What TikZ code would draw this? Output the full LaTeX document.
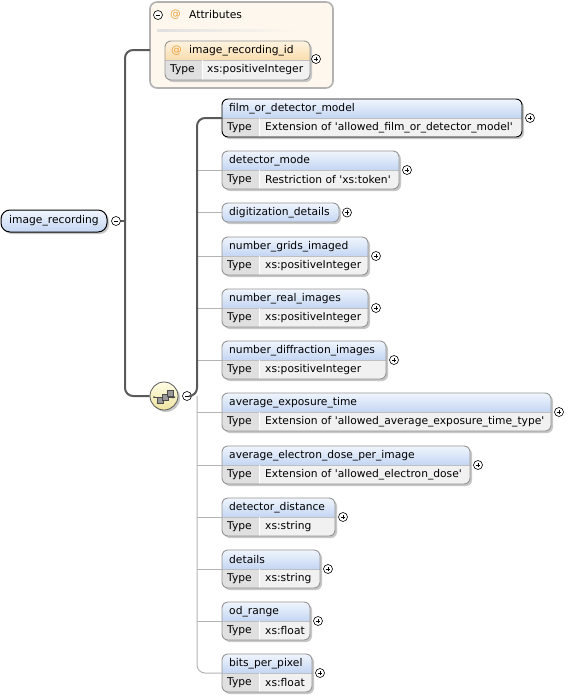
\documentclass[tikz,border=0pt]{standalone}
\usepackage{fontspec}
\setmainfont{DejaVu Sans}
\usetikzlibrary{calc}
\definecolor{hdtop}{RGB}{240,245,253}
\definecolor{hdbot}{RGB}{196,214,243}
\definecolor{typecell}{RGB}{224,224,224}
\definecolor{valcell}{RGB}{241,241,241}
\definecolor{bordergray}{RGB}{150,150,150}
\definecolor{conndark}{RGB}{90,90,90}
\definecolor{connlight}{RGB}{180,180,180}
\definecolor{attrfill}{RGB}{253,247,237}
\definecolor{attrborder}{RGB}{178,178,178}
\definecolor{orangetop}{RGB}{254,243,224}
\definecolor{orangebot}{RGB}{249,221,174}
\definecolor{atorange}{RGB}{238,160,60}
\definecolor{seqtop}{RGB}{255,253,228}
\definecolor{seqbot}{RGB}{238,228,160}
\newcommand\sq{\textquotesingle}
\tikzset{
  txt/.style={font=\fontsize{10.7}{12}\selectfont, inner sep=0, anchor=west},
  pmbase/.style={circle, draw=black, fill=white, line width=0.6, minimum size=9, inner sep=0},
  plusc/.style={pmbase, path picture={
      \draw[line width=0.6] ([xshift=-2.3pt]path picture bounding box.center) -- ([xshift=2.3pt]path picture bounding box.center);
      \draw[line width=0.6] ([yshift=-2.3pt]path picture bounding box.center) -- ([yshift=2.3pt]path picture bounding box.center);}},
  minusc/.style={pmbase, path picture={
      \draw[line width=0.6] ([xshift=-2.3pt]path picture bounding box.center) -- ([xshift=2.3pt]path picture bounding box.center);}},
  conn/.style={draw=conndark, line width=2},
  thinconn/.style={draw=connlight, line width=1},
  shadowc/.style={fill=black!22},
}
% #1 name, #2 y top, #3 x right, #4 label, #5 type, #6 border colour
\newcommand\elemTwo[6]{%
  \fill[shadowc, rounded corners=6] (224,-#2-2) rectangle (#3+2,-#2-40);
  \begin{scope}
    \clip[rounded corners=6] (222,-#2) rectangle (#3,-#2-38);
    \shade[top color=hdtop, bottom color=hdbot] (222,-#2) rectangle (#3,-#2-19);
    \fill[typecell] (222,-#2-19) rectangle (259,-#2-38);
    \fill[valcell] (259,-#2-19) rectangle (#3,-#2-38);
  \end{scope}
  \draw[black!25, line width=0.6] (222,-#2-19) -- (#3,-#2-19);
  \draw[white, line width=0.8] (259,-#2-19) -- (259,-#2-38);
  \node[draw=#6, line width=0.9, rounded corners=6, minimum width=#3-222, minimum height=38,
        anchor=north west, inner sep=0, outer sep=0] (#1) at (222,-#2) {};
  \node[txt] (#1-l) at (229,-#2-9.5) {#4};
  \node[txt] (#1-t) at (227,-#2-28.5) {Type};
  \node[txt] (#1-v) at (265,-#2-28.5) {#5};
  \node[plusc] (#1-p) at (#3+8,-#2-19) {};
}
\newcommand\elemOne[4]{%
  \fill[shadowc, rounded corners=6] (224,-#2-2) rectangle (#3+2,-#2-21);
  \node[draw=#4, line width=0.9, rounded corners=6, minimum width=#3-222, minimum height=19,
        top color=hdtop, bottom color=hdbot,
        anchor=north west, inner sep=0, outer sep=0] (#1) at (222,-#2) {};
  \node[txt] (#1-l) at (229,-#2-9.5) {digitization\_details};
  \node[plusc] (#1-p) at (#3+8,-#2-9.5) {};
}
\begin{document}
\begin{tikzpicture}[x=1pt,y=1pt]
\useasboundingbox (0,0) rectangle (583,-697);
\fill[white] (0,0) rectangle (583,-697);

% ---------- Attributes group ----------
\node[draw=attrborder, fill=attrfill, line width=1.6, rounded corners=7, minimum width=183, minimum height=86,
      anchor=north west, inner sep=0, outer sep=0] (attrs) at (150,-2) {};
\node[minusc] (attrs-m) at (158,-15) {};
\node[txt, text=atorange] (attrs-at) at (170,-15) {@};
\node[txt] (attrs-l) at (189,-15) {Attributes};
\shade[left color=black!12, right color=attrfill] (157,-29.5) rectangle (295,-31);

% image_recording_id
\fill[shadowc, rounded corners=6] (167,-43) rectangle (312,-82);
\begin{scope}
  \clip[rounded corners=6] (165,-41) rectangle (310,-80);
  \shade[top color=orangetop, bottom color=orangebot] (165,-41) rectangle (310,-60);
  \fill[typecell] (165,-60) rectangle (202,-80);
  \fill[valcell] (202,-60) rectangle (310,-80);
\end{scope}
\draw[black!25, line width=0.6] (165,-60) -- (310,-60);
\draw[white, line width=0.8] (202,-60) -- (202,-80);
\node[draw=bordergray, line width=0.9, rounded corners=6, minimum width=145, minimum height=39,
      anchor=north west, inner sep=0, outer sep=0] (idattr) at (165,-41) {};
\node[txt, text=atorange] (idattr-at) at (171,-50.5) {@};
\node[txt] (idattr-l) at (189,-50.5) {image\_recording\_id};
\node[txt] (idattr-t) at (170,-70) {Type};
\node[txt] (idattr-v) at (207,-70) {xs:positiveInteger};
\node[plusc] (idattr-p) at (316,-59) {};

% ---------- root ----------
\fill[shadowc, rounded corners=9] (3,-212) rectangle (109,-234);
\node[draw=black, line width=1, rounded corners=9, minimum width=106, minimum height=22,
      top color=hdtop, bottom color=hdbot, anchor=north west, inner sep=0, outer sep=0] (root) at (1,-210) {};
\node[txt] (root-l) at (9,-221) {image\_recording};
\node[minusc] (root-m) at (116,-221) {};

% ---------- sequence ----------
\fill[black!22] (166,-398) circle (14);
\node[circle, draw=black!65, line width=0.8, minimum size=28, inner sep=0, top color=seqtop, bottom color=seqbot] (seq) at (164,-396) {};
\draw[black!70, line width=0.7] (154,-397) -- (175,-397);
\fill[black!70] (154,-397) circle (1);
\fill[black!70] (175.5,-397) -- (172.5,-395.3) -- (172.5,-398.7) -- cycle;
\foreach \dx/\dy in {0/0,5/3.5,10/7}{
  \draw[black!70, fill=black!40, line width=0.5] (157.5+\dx,-403.5+\dy) rectangle (163.5+\dx,-397.5+\dy);
}
\node[minusc] (seq-m) at (187,-396) {};

% ---------- children ----------
\elemTwo{film}{99}{522}{film\_or\_detector\_model}{Extension of \sq allowed\_film\_or\_detector\_model\sq}{black}
\elemTwo{mode}{151}{399}{detector\_mode}{Restriction of \sq xs:token\sq}{bordergray}
\elemOne{digit}{203}{339}{bordergray}
\elemTwo{grids}{237}{368}{number\_grids\_imaged}{xs:positiveInteger}{bordergray}
\elemTwo{real}{289}{368}{number\_real\_images}{xs:positiveInteger}{bordergray}
\elemTwo{diff}{341}{386}{number\_diffraction\_images}{xs:positiveInteger}{bordergray}
\elemTwo{expo}{393}{551}{average\_exposure\_time}{Extension of \sq allowed\_average\_exposure\_time\_type\sq}{bordergray}
\elemTwo{dose}{446}{470}{average\_electron\_dose\_per\_image}{Extension of \sq allowed\_electron\_dose\sq}{bordergray}
\elemTwo{dist}{498}{335}{detector\_distance}{xs:string}{bordergray}
\elemTwo{details}{550}{320}{details}{xs:string}{bordergray}
\elemTwo{od}{602}{310}{od\_range}{xs:float}{bordergray}
\elemTwo{bits}{654}{312}{bits\_per\_pixel}{xs:float}{bordergray}

% ---------- connectors ----------
\coordinate (spine) at (197,-396);
\draw[thinconn, rounded corners=8] (spine) |- (bits.west);
\foreach \c in {mode,digit,grids,real,diff,expo,dose,dist,details,od}{
  \draw[thinconn] (spine |- \c.west) -- (\c.west);
}
\draw[conn, rounded corners=8] (seq-m.east) -- (spine) |- (film.west);
\coordinate (trunk) at (125,-221);
\draw[conn] (root-m.east) -- (trunk);
\draw[conn, rounded corners=8] (attrs.west |- 0,-50) -| (trunk) |- (seq.west);
\end{tikzpicture}
\end{document}
